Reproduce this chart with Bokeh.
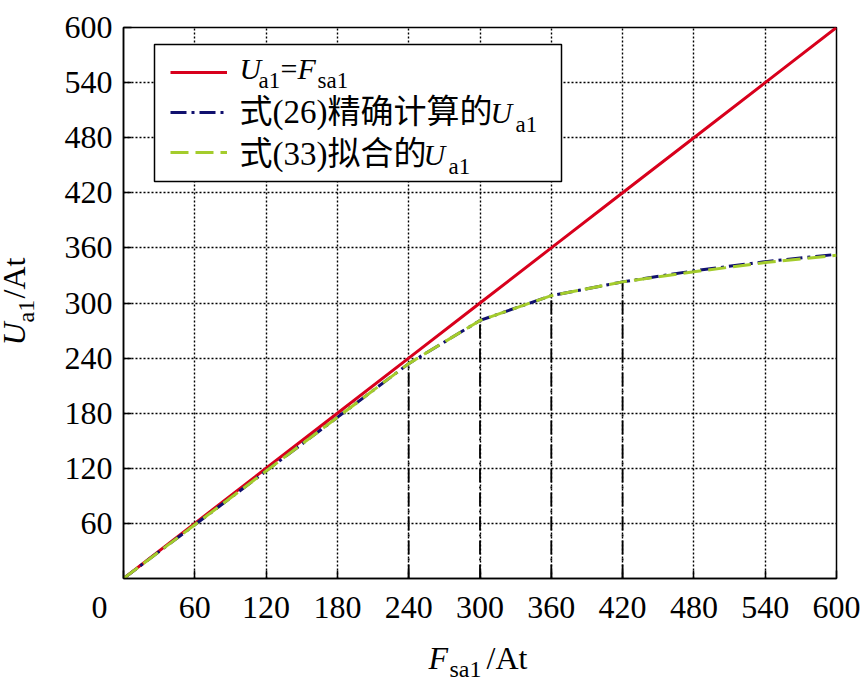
from bokeh.plotting import figure
from bokeh.models import FixedTicker, Legend, LegendItem, Label, BoxAnnotation
from bokeh.layouts import column, row
from bokeh.embed import file_html
from bokeh.resources import INLINE
import math

# ---------------- data ----------------
f_sa1 = [0, 60, 120, 180, 240, 300, 360, 420, 480, 540, 600]          # F_sa1 / At
u_ideal = [0, 60, 120, 180, 240, 300, 360, 420, 480, 540, 600]        # U_a1 = F_sa1
u_exact = [0, 58.5, 117, 175.5, 234, 281, 308, 323, 335, 345, 353]    # eq.(26) exact
u_fit = [0, 58.5, 117, 175.5, 234, 281, 308, 323, 334, 344, 352]      # eq.(33) fitted
segment_breaks = [240, 300, 360, 420]                                  # piecewise fit boundaries
x_ticks = [0, 60, 120, 180, 240, 300, 360, 420, 480, 540, 600]
y_ticks = [60, 120, 180, 240, 300, 360, 420, 480, 540, 600]
seg_tops = [u_fit[f_sa1.index(b)] for b in segment_breaks]

SERIF = "Liberation Serif"
MIX = "'Liberation Serif', 'Noto Sans CJK SC'"

W, H = 860, 680
YLAB_W = 60          # left strip for the y-axis title
XLAB_H = 44          # bottom strip for the x-axis title
MAIN_H = H - XLAB_H
FL, FB = 123, 578    # frame left / bottom in page pixels
BASE_FIX = 0.32      # observed baseline drop of Label text, in em


def blank(width, height):
    f = figure(width=width, height=height, x_range=(0, 1), y_range=(0, 1),
               output_backend="svg", toolbar_location=None,
               x_axis_location=None, y_axis_location=None,
               min_border=0, min_border_left=0, min_border_right=0,
               min_border_top=0, min_border_bottom=0,
               background_fill_color="white", border_fill_color="white")
    f.outline_line_color = None
    f.grid.visible = False
    return f


p = figure(width=W - YLAB_W, height=MAIN_H, x_range=(0, 600), y_range=(0, 600),
           output_backend="svg", toolbar_location=None,
           min_border_left=FL - YLAB_W, min_border_right=24, min_border_top=27,
           min_border_bottom=MAIN_H - FB,
           background_fill_color="white", border_fill_color="white")

for ax, ticks, standoff in ((p.xaxis, x_ticks, 10), (p.yaxis, y_ticks, 11)):
    ax.ticker = FixedTicker(ticks=ticks)
    ax.major_tick_in = 8
    ax.major_tick_out = 0
    ax.minor_tick_line_color = None
    ax.axis_line_width = 1.5
    ax.axis_line_color = "black"
    ax.major_tick_line_color = "black"
    ax.major_tick_line_width = 1.5
    ax.major_label_text_font = SERIF
    ax.major_label_text_font_size = "32px"
    ax.major_label_text_color = "black"
    ax.major_label_standoff = standoff
# the origin label sits left of the corner in the reference
p.xaxis.major_label_overrides = {0: "0" + "\u00a0" * 6}

p.grid.grid_line_color = "black"
p.grid.grid_line_dash = "2 2"
p.grid.grid_line_width = 1.4
p.grid.grid_line_alpha = 1
p.outline_line_color = "black"
p.outline_line_width = 1.5
p.outline_line_alpha = 1

r_red = p.line(f_sa1, u_ideal, line_color="#d8001c", line_width=3)
p.segment(x0=segment_breaks, y0=[0] * len(segment_breaks), x1=segment_breaks, y1=seg_tops,
          line_color="black", line_width=1.8, line_dash="14 4 2 4")
r_blue = p.line(f_sa1, u_exact, line_color="#10106e", line_width=3, line_dash="16 5 3 5")
r_green = p.line(f_sa1, u_fit, line_color="#a4cc2c", line_width=3, line_dash="18 7")

# legend frame
p.add_layout(BoxAnnotation(left=154 - FL, right=561 - FL, top=FB - 44, bottom=FB - 181,
                           left_units="screen", right_units="screen",
                           top_units="screen", bottom_units="screen",
                           fill_color="white", fill_alpha=1,
                           line_color="black", line_width=1.5, line_alpha=1))

legend = Legend(items=[LegendItem(label=" ", renderers=[r_red]),
                       LegendItem(label=" ", renderers=[r_blue]),
                       LegendItem(label=" ", renderers=[r_green])],
                location=(170 - FL, FB - 162), orientation="vertical",
                padding=0, margin=0, spacing=20, glyph_width=57, glyph_height=20,
                label_height=20, label_width=1, label_standoff=0,
                label_text_font_size="8px", border_line_alpha=0, background_fill_alpha=0)
p.add_layout(legend)


def T(fig, text, x, y, size, italic=False, font=SERIF, angle=0.0, align="left",
      baseline="alphabetic"):
    fig.add_layout(Label(x=x, y=y, x_units="screen", y_units="screen",
                         text=text, text_font=font, text_font_size=f"{size}px",
                         text_font_style="italic" if italic else "normal",
                         angle=angle, text_align=align, text_baseline=baseline,
                         text_color="black"))


def TM(text, cx, cy, size, **kw):   # main plot, page coordinates of the baseline start
    T(p, text, cx - FL, FB - (cy - BASE_FIX * size), size, **kw)


# legend texts
TM("U", 239, 78, 30, italic=True)
TM("a1", 258, 87, 23)
TM("=", 280, 78, 30)
TM("F", 297, 78, 30, italic=True)
TM("sa1", 317, 87, 23)

TM("式(26)精确计算的", 239, 122, 33, font=MIX)
TM("U", 490, 122, 30, italic=True)
TM("a1", 515, 131, 23)

TM("式(33)拟合的", 239, 164, 33, font=MIX)
TM("U", 423, 164, 30, italic=True)
TM("a1", 448, 173, 23)

# x axis title strip (frame = whole strip)
xl = blank(W, XLAB_H)


def TX(text, cx, cy, size, **kw):
    T(xl, text, cx, H - (cy - BASE_FIX * size), size, **kw)


TX("F", 428, 668, 32, italic=True)
TX("sa1", 449, 676, 24)
TX("/At", 486, 668, 32)

# y axis title strip (its frame is aligned with the main frame in the row)
yl = blank(YLAB_W, MAIN_H)


def TY(text, cx, cy, size, **kw):   # rotated text: baseline drop shows up as a shift to the right
    T(yl, text, cx - BASE_FIX * size, FB - cy, size, angle=math.pi / 2, **kw)


TY("U", 24, 345, 32, italic=True)
TY("a1", 33, 322, 24)
TY("/At", 24, 298, 32)

layout = column(row(yl, p, spacing=0), xl, spacing=0)
open("out.html", "w").write(file_html(layout, INLINE))
